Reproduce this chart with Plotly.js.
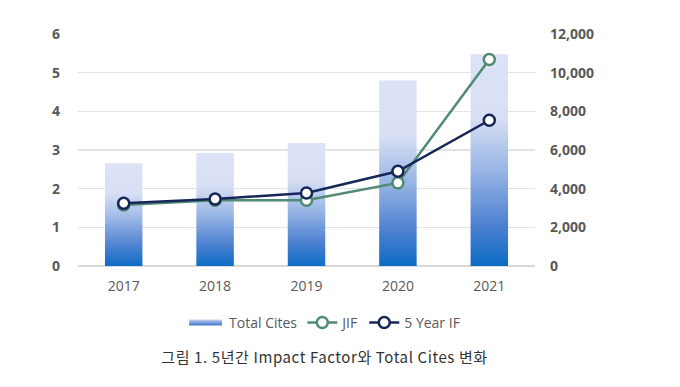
<!DOCTYPE html>
<html>
<head>
<meta charset="utf-8">
<script src="https://cdn.plot.ly/plotly-3.0.1.min.js"></script>
<style>
html,body{margin:0;padding:0;background:#fff;}
#chart{width:680px;height:387px;}
</style>
</head>
<body>
<div id="chart"></div>
<script>
const years = ['2017', '2018', '2019', '2020', '2021'];
const totalCites = [5320, 5840, 6360, 9600, 10950];
const jif = [1.58, 1.70, 1.70, 2.15, 5.34];
const fiveYearIF = [1.62, 1.73, 1.89, 2.45, 3.77];
const leftTicks = [0, 1, 2, 3, 4, 5, 6];
const rightTicks = [0, 2000, 4000, 6000, 8000, 10000, 12000];

const tickFont = {family: 'Open Sans, Noto Sans, sans-serif', size: 14, color: '#595959', weight: 'bold'};

const traces = [
  {
    type: 'bar', name: 'Total Cites', x: years, y: totalCites, yaxis: 'y',
    width: 0.41,
    marker: {color: '#7ea2df', line: {width: 0}},
    hoverinfo: 'skip'
  },
  {
    type: 'scatter', mode: 'lines+markers', name: 'JIF', x: years, y: jif, yaxis: 'y2',
    line: {color: '#4f8a72', width: 2.5},
    marker: {size: 11, color: '#ffffff', line: {color: '#4f8a72', width: 2.5}}
  },
  {
    type: 'scatter', mode: 'lines+markers', name: '5 Year IF', x: years, y: fiveYearIF, yaxis: 'y2',
    line: {color: '#172658', width: 2.5},
    marker: {size: 11, color: '#ffffff', line: {color: '#172658', width: 2.5}}
  }
];

const layout = {
  width: 680, height: 387,
  margin: {l: 78, r: 145, t: 34, b: 121},
  paper_bgcolor: '#ffffff', plot_bgcolor: '#ffffff',
  showlegend: true,
  legend: {
    orientation: 'h', x: 0.545, xanchor: 'center', y: -0.245, yanchor: 'middle',
    font: {family: 'Open Sans, Noto Sans, sans-serif', size: 14, color: '#595959'},
    tracegroupgap: 0
  },
  xaxis: {
    type: 'category', range: [-0.5, 4.5],
    showgrid: false, zeroline: false, showline: false,
    ticks: '', ticklabelstandoff: 10,
    tickfont: {family: 'Open Sans, Noto Sans, sans-serif', size: 14, color: '#595959'}
  },
  yaxis: {
    range: [0, 12000], tickvals: rightTicks, tickformat: ',',
    side: 'right',
    showgrid: true, gridcolor: '#e3e3e3', gridwidth: 1.2,
    zeroline: true, zerolinecolor: '#d9d9d9', zerolinewidth: 1.5,
    showline: false, ticks: '', ticklabelstandoff: 14,
    tickfont: tickFont
  },
  yaxis2: {
    range: [0, 6], tickvals: leftTicks,
    overlaying: 'y', side: 'left',
    showgrid: false, zeroline: false, showline: false, ticks: '',
    ticklabelstandoff: 17,
    tickfont: tickFont
  },
  annotations: [{
    text: '그림 1. 5년간 Impact Factor와 Total Cites 변화',
    xref: 'paper', yref: 'paper', x: 0.54, y: -0.392,
    xanchor: 'center', yanchor: 'middle', showarrow: false,
    font: {family: 'Noto Sans CJK KR, Noto Sans, sans-serif', size: 15, color: '#333333'}
  }]
};

Plotly.newPlot('chart', traces, layout, {displayModeBar: false, staticPlot: true}).then(function(gd){
  const svg = gd.querySelector('svg.main-svg');
  const ns = 'http://www.w3.org/2000/svg';
  let defs = svg.querySelector('defs');
  if (!defs) { defs = document.createElementNS(ns, 'defs'); svg.insertBefore(defs, svg.firstChild); }
  function mkGrad(id, vertical, stops) {
    const g = document.createElementNS(ns, 'linearGradient');
    g.setAttribute('id', id);
    g.setAttribute('x1', '0'); g.setAttribute('y1', '0');
    g.setAttribute('x2', vertical ? '0' : '1'); g.setAttribute('y2', vertical ? '1' : '0');
    stops.forEach(function(s){
      const st = document.createElementNS(ns, 'stop');
      st.setAttribute('offset', s[0]);
      st.setAttribute('stop-color', s[1]);
      g.appendChild(st);
    });
    defs.appendChild(g);
  }
  mkGrad('barGrad', true, [[0, '#dde3f6'], [0.3, '#d8dff4'], [0.55, '#98b5e5'], [0.8, '#4f82d1'], [1, '#0d6cc6']]);
  mkGrad('legGrad', true, [[0, '#c9d6f0'], [0.5, '#7ea2df'], [1, '#3f78cc']]);
  gd.querySelectorAll('.barlayer .point path').forEach(function(p){
    p.style.fill = 'url(#barGrad)';
    p.style.fillOpacity = 1;
  });
  gd.querySelectorAll('.legend .traces').forEach(function(t){
    if (t.textContent.indexOf('Total Cites') >= 0) {
      t.querySelectorAll('.legendpoints path').forEach(function(p){
        p.setAttribute('d', 'M-20,-3h33v6h-33z');
        p.style.fill = 'url(#legGrad)';
        p.style.stroke = 'none';
      });
    }
  });
  gd.querySelectorAll('.annotation-text').forEach(function(t){
    t.style.letterSpacing = '0.6px';
  });
});
</script>
</body>
</html>
